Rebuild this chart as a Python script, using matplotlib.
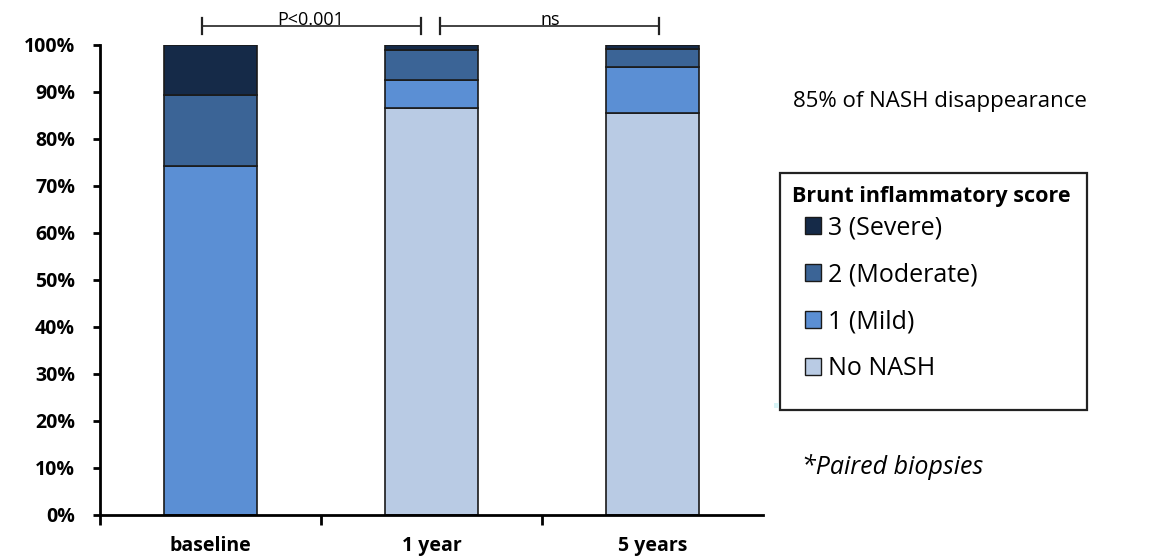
import matplotlib
matplotlib.use("Agg")
import matplotlib.pyplot as plt
from matplotlib.patches import Patch, Rectangle

plt.rcParams["font.family"] = ["Open Sans", "DejaVu Sans"]

timepoints = ["baseline", "1 year", "5 years"]
scores = ["No NASH", "1 (Mild)", "2 (Moderate)", "3 (Severe)"]
no_nash = [0.0, 86.6, 85.6]
mild = [74.3, 6.0, 9.7]
moderate = [15.1, 6.3, 3.9]
severe = [10.6, 1.1, 0.8]
colors = ["#b9cbe4", "#5b8fd4", "#3b6496", "#152a48"]
yticks = list(range(0, 101, 10))

comparisons = [("P<0.001", -0.04, 0.95), ("ns", 1.04, 2.03)]

fig = plt.figure(figsize=(11.51, 5.58), dpi=100)
ax = fig.add_axes([0.0869, 0.0771, 0.5761, 0.8423])

x = list(range(len(timepoints)))
bottom = [0.0] * len(x)
for values, color in zip([no_nash, mild, moderate, severe], colors):
    ax.bar(x, values, width=0.42, bottom=bottom, color=color,
           edgecolor="#1a1a1a", linewidth=1.2)
    bottom = [b + v for b, v in zip(bottom, values)]

ax.set_xlim(-0.5, 2.5)
ax.set_ylim(0, 100)
ax.set_yticks(yticks)
ax.set_yticklabels([f"{t}%" for t in yticks], fontsize=14, fontweight="bold")
ax.set_xticks(x)
ax.set_xticklabels(timepoints, fontsize=14, fontweight="bold")
ax.tick_params(axis="x", which="major", length=0, pad=15)
ax.set_xticks([-0.5, 0.5, 1.5], minor=True)
ax.tick_params(axis="x", which="minor", length=7, width=2, direction="out")
ax.tick_params(axis="y", length=5, width=2, direction="out", pad=13)
for side in ("top", "right"):
    ax.spines[side].set_visible(False)
for side in ("left", "bottom"):
    ax.spines[side].set_linewidth(2)

for label, x0, x1 in comparisons:
    y = 104.0
    ax.plot([x0, x1], [y, y], color="#222222", lw=1.2, clip_on=False)
    for xe in (x0, x1):
        ax.plot([xe, xe], [y - 1.7, y + 1.7], color="#222222", lw=1.6, clip_on=False)
    ax.text((x0 + x1) / 2, y - 0.6, label, ha="center", va="bottom",
            fontsize=13, clip_on=False)

fig.text(0.689, 0.818, "85% of NASH disappearance", fontsize=16, va="center")
fig.text(0.697, 0.163, "*Paired biopsies", fontsize=18, style="italic", va="center")

# legend box and title drawn by hand so the layout can match the original
fig.patches.append(Rectangle((0.6777, 0.2652), 0.2667, 0.4247, transform=fig.transFigure,
                             facecolor="white", edgecolor="#222222", linewidth=1.6))
fig.text(0.688, 0.647, "Brunt inflammatory score", fontsize=15.5, fontweight="bold",
         va="center")
handles = [Patch(facecolor=c, edgecolor="#1a1a1a", label=s)
           for s, c in zip(scores[::-1], colors[::-1])]
leg = fig.legend(handles=handles, loc="upper left", bbox_to_anchor=(0.693, 0.628),
                 borderaxespad=0, fontsize=18, frameon=False,
                 handlelength=0.65, handleheight=0.65, handletextpad=0.25,
                 labelspacing=0.88, borderpad=0.3)

fig.patches.append(Rectangle((0.6725, 0.268), 0.004, 0.009, transform=fig.transFigure,
                             facecolor="#d8f4f6", edgecolor="none"))

fig.savefig("out.png", dpi=100)
